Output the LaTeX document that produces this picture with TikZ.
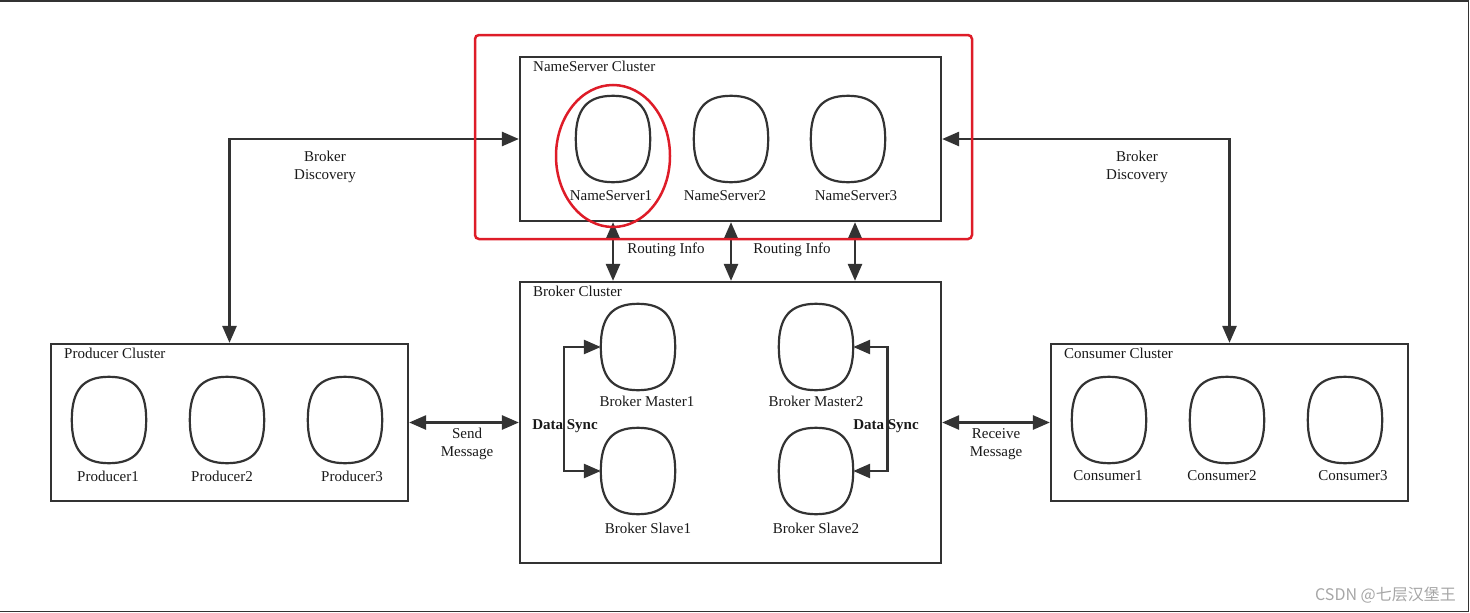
\documentclass[tikz,border=0pt]{standalone}
\usepackage{fontspec}
\setmainfont{Liberation Serif}
\newfontfamily\cjkfont{Noto Sans CJK SC}
\usetikzlibrary{arrows.meta,positioning,calc}
\definecolor{ln}{RGB}{51,51,51}
\definecolor{hl}{RGB}{222,28,40}
\tikzset{
  cluster/.style={draw=ln, line width=2.2pt, inner sep=0pt},
  oval/.style={minimum width=74pt, minimum height=86pt, inner sep=0pt},
  ovline/.style={draw=ln, line width=2.2pt},
  lbl/.style={font=\fontsize{15}{17}\selectfont, inner sep=0pt, text=black!90},
  ttl/.style={lbl, anchor=west},
  arr/.style={draw=ln, line width=2.6pt, {Triangle[length=17pt,width=14pt]}-{Triangle[length=17pt,width=14pt]}},
  hlbox/.style={draw=hl, line width=2.5pt, rounded corners=4pt},
}
\newcommand\ovalshape[1]{%
  \draw[ovline] (#1.north) .. controls ([xshift=26pt]#1.north) and ([yshift=30pt]#1.east) .. (#1.east)
    .. controls ([yshift=-30pt]#1.east) and ([xshift=26pt]#1.south) .. (#1.south)
    .. controls ([xshift=-26pt]#1.south) and ([yshift=-30pt]#1.west) .. (#1.west)
    .. controls ([yshift=30pt]#1.west) and ([xshift=-26pt]#1.north) .. (#1.north) -- cycle;}
\begin{document}
\begin{tikzpicture}[x=1pt,y=-1pt]
\useasboundingbox (0,0) rectangle (1470,613);
% outer frame
\draw[ln, line width=1.5pt] (0,0.75) -- (1468.5,0.75) -- (1468.5,611.5) -- (0,611.5);

% clusters
\node[cluster, minimum width=421pt, minimum height=164pt] (ns) at (730.5,139) {};
\node[cluster, minimum width=421pt, minimum height=281pt] (br) at (730.5,422.5) {};
\node[cluster, minimum width=357pt, minimum height=157pt] (prod) at (229.5,422.5) {};
\node[cluster, minimum width=357pt, minimum height=157pt] (cons) at (1229.5,422.5) {};
\node[ttl] (nst) at (533,66) {NameServer Cluster};
\node[ttl] (brt) at (533,291) {Broker Cluster};
\node[ttl] (prt) at (64,353) {Producer Cluster};
\node[ttl] (cot) at (1064,353) {Consumer Cluster};

% name servers
\node[oval] (ns1) at (613,139) {};
\node[oval] (ns2) at (731,139) {};
\node[oval] (ns3) at (848,139) {};
\node[lbl] (ns1l) at (611,196) {NameServer1};
\node[lbl] (ns2l) at (725,196) {NameServer2};
\node[lbl] (ns3l) at (856,196) {NameServer3};

% brokers
\node[oval] (bm1) at (638,347) {};
\node[oval] (bs1) at (638,471) {};
\node[oval] (bm2) at (816,347) {};
\node[oval] (bs2) at (816,471) {};
\node[lbl] (bm1l) at (647,401) {Broker Master1};
\node[lbl] (bs1l) at (648,528) {Broker Slave1};
\node[lbl] (bm2l) at (816,401) {Broker Master2};
\node[lbl] (bs2l) at (816,528) {Broker Slave2};

% producers
\node[oval] (p1) at (109,420) {};
\node[oval] (p2) at (227,420) {};
\node[oval] (p3) at (345,420) {};
\node[lbl] (p1l) at (108,476) {Producer1};
\node[lbl] (p2l) at (222,476) {Producer2};
\node[lbl] (p3l) at (352,476) {Producer3};

% consumers
\node[oval] (c1) at (1109,420) {};
\node[oval] (c2) at (1227,420) {};
\node[oval] (c3) at (1345,420) {};
\node[lbl] (c1l) at (1108,476) {Consumer1};
\node[lbl] (c2l) at (1222,476) {Consumer2};
\node[lbl] (c3l) at (1353,476) {Consumer3};

\foreach \n in {ns1,ns2,ns3,bm1,bs1,bm2,bs2,p1,p2,p3,c1,c2,c3} {\ovalshape{\n}}

% connectors
\draw[arr] (ns.west) -| (prod.north);
\draw[arr] (ns.east) -| (cons.north);
\node[lbl, align=center] (bdl) at (325,167) {Broker\\[1pt]Discovery};
\node[lbl, align=center] (bdr) at (1137,167) {Broker\\[1pt]Discovery};

\draw[arr] (ns.south -| ns1) -- (br.north -| ns1);
\draw[arr] (ns.south -| ns2) -- (br.north -| ns2);
\coordinate (r3) at (855,250);
\draw[arr] (ns.south -| r3) -- (br.north -| r3);
\node[lbl] (ri1) at (666,250) {Routing Info};
\node[lbl] (ri2) at (792,250) {Routing Info};

\draw[arr] (prod.east) -- (br.west);
\draw[arr] (br.east) -- (cons.west);
\node[lbl, align=center] (sm) at (467,444) {Send\\[1pt]Message};
\node[lbl, align=center] (rm) at (996,444) {Receive\\[1pt]Message};

\draw[arr] (bm1.west) -- ++(-37,0) |- (bs1.west);
\draw[arr] (bm2.east) -- ++(34,0) |- (bs2.east);
\node[lbl, font=\fontsize{15}{17}\selectfont\bfseries] (dsl) at (565,426) {Data Sync};
\node[lbl, font=\fontsize{15}{17}\selectfont\bfseries] (dsr) at (886,426) {Data Sync};

% highlights
\draw[hlbox] (475,35) rectangle (972,239);
\draw[hl, line width=2.5pt] (613,156) ellipse [x radius=57pt, y radius=71pt];

% watermark
\node[lbl, font=\cjkfont\fontsize{16}{18}\selectfont, text=black!35, anchor=east] (wm) at (1456,595) {CSDN @七层汉堡王};
\end{tikzpicture}
\end{document}
